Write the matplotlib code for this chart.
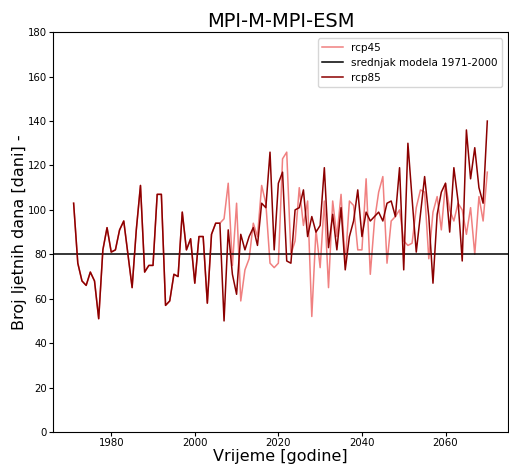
import numpy as np
import matplotlib
matplotlib.use("Agg")
import matplotlib.pyplot as plt

# zajednicki povijesni dio 1971-2005
hist_years = list(range(1971, 2006))
hist_vals = [103, 76, 68, 66, 72, 68, 51, 82, 92, 81,
             82, 91, 95, 80, 65, 91, 111, 72, 75, 75,
             107, 107, 57, 59, 71, 70, 99, 82, 87, 67,
             88, 88, 58, 89, 94]

# scenariji 2006-2070
scen_years = list(range(2006, 2071))
rcp45_vals = [94, 96, 112, 75, 103, 59, 73, 78, 94, 88,
              111, 103, 76, 74, 76, 123, 126, 80, 86, 110,
              93, 104, 52, 91, 74, 104, 65, 104, 88, 107,
              76, 104, 102, 82, 82, 114, 71, 95, 108, 115,
              76, 95, 97, 100, 86, 84, 85, 101, 109, 108,
              78, 99, 106, 91, 112, 100, 95, 103, 100, 89,
              101, 80, 106, 95, 117]
rcp85_vals = [94, 50, 91, 71, 62, 89, 82, 88, 92, 84,
              103, 101, 126, 82, 112, 117, 77, 76, 100, 101,
              109, 88, 97, 90, 93, 119, 83, 98, 82, 101,
              73, 88, 95, 109, 88, 99, 95, 97, 99, 95,
              103, 104, 97, 119, 73, 130, 105, 81, 98, 115,
              97, 67, 98, 108, 112, 90, 119, 104, 77, 136,
              114, 128, 110, 103, 140]

mean_1971_2000 = 80

years = hist_years + scen_years
rcp45 = hist_vals + rcp45_vals
rcp85 = hist_vals + rcp85_vals

fig = plt.figure(figsize=(5.09, 4.67), dpi=100)
ax = fig.add_axes([0.104, 0.075, 0.894, 0.856])

ax.plot(years, rcp45, color="#f08080", lw=1.1, label="rcp45")
ax.axhline(mean_1971_2000, color="black", lw=1.1, label="srednjak modela 1971-2000")
ax.plot(years, rcp85, color="#8b0000", lw=1.1, label="rcp85")

ax.set_ylim(0, 180)
ax.set_yticks(np.arange(0, 181, 20))
ax.set_xticks([1980, 2000, 2020, 2040, 2060])
ax.tick_params(labelsize=7.3, length=3, pad=1.3)

ax.set_title("MPI-M-MPI-ESM", fontsize=14, pad=4)
ax.set_xlabel("Vrijeme [godine]", fontsize=11.5)
ax.set_ylabel("Broj ljetnih dana [dani] -", fontsize=11.5)
ax.xaxis.set_label_coords(0.5, -0.043)
ax.yaxis.set_label_coords(-0.057, 0.5)
ax.legend(loc="upper right", fontsize=7.5, borderaxespad=0.6)

fig.savefig("out.png", dpi=100)
